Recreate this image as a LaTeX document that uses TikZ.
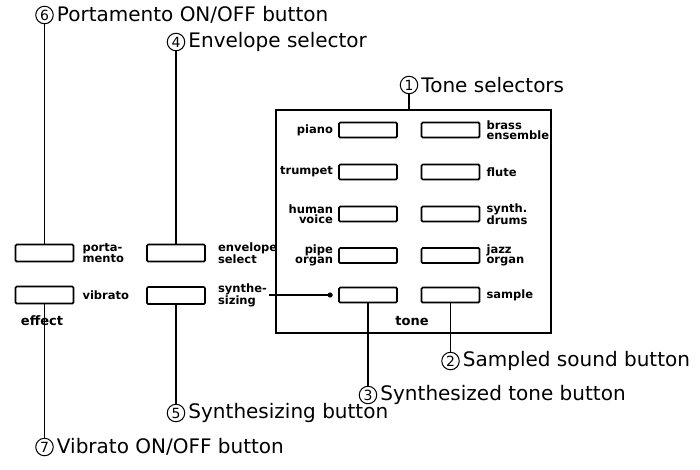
\documentclass[tikz,border=0pt]{standalone}
\usepackage{fontspec}
\setmainfont{DejaVu Sans}
\usepackage{tikz}
\usetikzlibrary{calc,
  positioning
}
\tikzstyle{wire} = [line width=1.2pt]
\tikzstyle{btn} = [draw, line width=1.7pt, rounded corners=1.2pt,
  minimum width=58pt, minimum height=17pt, inner sep=0pt]
\tikzstyle{tonebtn} = [btn, minimum height=15pt]
\tikzstyle{lbl} = [inner sep=0pt, font=\fontsize{11.5}{10}\selectfont\bfseries]
\tikzstyle{num} = [draw, circle, line width=1pt, minimum size=17.5pt,
  inner sep=0pt, font=\fontsize{14}{14}\selectfont]
\tikzstyle{callout} = [inner sep=0pt, font=\fontsize{20}{24}\selectfont]

\begin{document}
\begin{tikzpicture}[x=1pt, y=-1pt]
  \useasboundingbox (0,0) rectangle (700,469);

  % effect buttons
  \node[btn] (porta) at (44.5,253) {};
  \node[btn] (vib) at (44.5,295) {};
  \node[lbl, align=left, right=8pt of porta] {porta-\\mento};
  \node[lbl, right=8pt of vib] {vibrato};
  \node[lbl, font=\fontsize{13}{12}\selectfont\bfseries] (effect) at (42,321) {effect};

  % envelope / synthesizing
  \node[btn] (env) at (176,253) {};
  \node[btn] (synth) at (176,295.5) {};
  \node[lbl, align=left, right=12pt of env] {envelope\\select};
  \node[lbl, align=left, right=12pt of synth] (synlbl) {synthe-\\sizing};

  % tone panel
  \node[draw, line width=1.2pt, minimum width=275pt, minimum height=223pt,
    inner sep=0pt] (panel) at (413.5,221.5) {};
  \foreach \row/\y in {1/130,2/172,3/214,4/255.5,5/295} {
    \node[tonebtn] (L\row) at (368,\y) {};
    \node[tonebtn] (R\row) at (450.5,\y) {};
  }
  \foreach \row/\txt in {1/piano,2/trumpet,3/{human\\voice},4/{pipe\\organ}}
    \node[lbl, align=right, left=5pt of L\row] {\txt};
  \foreach \row/\txt in {1/{brass\\ensemble},2/flute,3/{synth.\\drums},4/{jazz\\organ},5/sample}
    \node[lbl, align=left, right=6pt of R\row] {\txt};
  \node[lbl, font=\fontsize{13}{12}\selectfont\bfseries] (tone) at (412,321) {tone};

  \coordinate (dot) at ($(L5.west)+(-8,0)$);
  \draw[wire, shorten <=2pt] (dot -| synlbl.east) -- (dot);
  \fill (dot) circle (2.6pt);

  % callouts
  \node[num] (n1) at (409,85) {1};
  \node[callout, right=3pt of n1] (t1) {Tone selectors};
  \node[num] (n2) at (450.5,361) {2};
  \node[callout, right=3pt of n2] (t2) {Sampled sound button};
  \node[num] (n3) at (368,395) {3};
  \node[callout, right=3pt of n3] (t3) {Synthesized tone button};
  \node[num] (n4) at (176,42) {4};
  \node[callout, right=3pt of n4] (t4) {Envelope selector};
  \node[num] (n5) at (176,413) {5};
  \node[callout, right=3pt of n5] (t5) {Synthesizing button};
  \node[num] (n6) at (44.5,15) {6};
  \node[callout, right=3pt of n6] (t6) {Portamento ON/OFF button};
  \node[num] (n7) at (44.5,447) {7};
  \node[callout, right=3pt of n7] (t7) {Vibrato ON/OFF button};

  \draw[wire] (n6) -- (porta);
  \draw[wire] (vib) -- (n7);
  \draw[wire] (n4) -- (env);
  \draw[wire] (synth) -- (n5);
  \draw[wire] (n1) -- (n1 |- panel.north);
  \draw[wire] (L5) -- (n3);
  \draw[wire] (R5) -- (n2);
\end{tikzpicture}
\end{document}
